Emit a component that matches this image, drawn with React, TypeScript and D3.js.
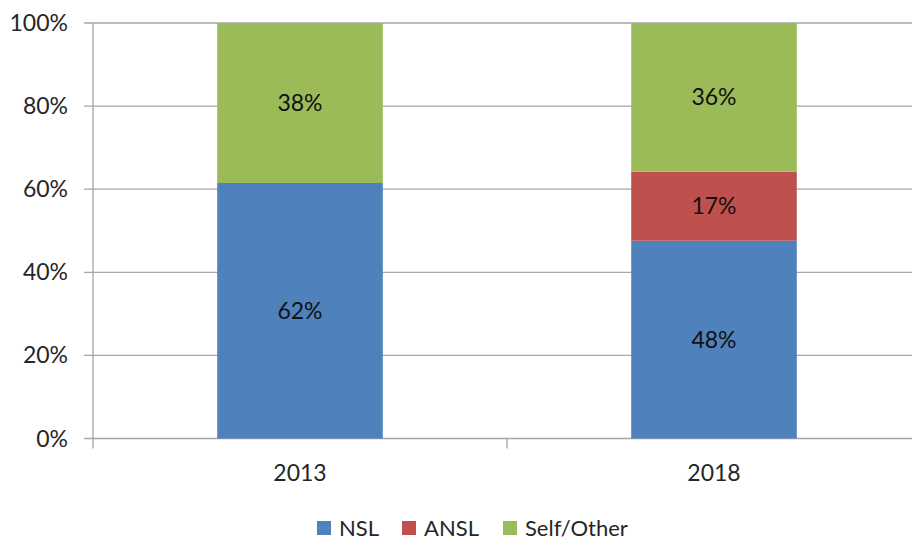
import * as d3 from "d3";

// данные
const years = ["2013", "2018"];
const seriesNames = ["NSL", "ANSL", "Self/Other"];
const nsl = [0.615, 0.476];
const ansl = [0, 0.166];
const selfOther = [0.385, 0.358];
const barLabels = [
  ["62%", "", "38%"],
  ["48%", "17%", "36%"],
];
const yTicks = [0, 0.2, 0.4, 0.6, 0.8, 1];
const colors = ["#4F81BD", "#C0504D", "#9BBB59"];

const W = 912;
const H = 540;
const margin = { top: 23, left: 93, bottom: 101.5 };
const FONT = "Lato, 'Open Sans', sans-serif";

export default function App() {
  const rows = years.map((y, i) => ({
    year: y,
    NSL: nsl[i],
    ANSL: ansl[i],
    "Self/Other": selfOther[i],
  }));
  const stacked = d3.stack<any>().keys(seriesNames)(rows);

  // шкалы
  const x = d3.scaleBand().domain(years).range([margin.left, 921]).padding(0);
  const y = d3
    .scaleLinear()
    .domain([0, 1])
    .range([H - margin.bottom, margin.top]);
  const barW = x.bandwidth() * 0.4;
  const fmt = d3.format(".0%");
  const bottom = y(0);
  const boundaries = [...years.map((d) => x(d)!), 921];

  return (
    <svg
      width={W}
      height={H}
      style={{ position: "absolute", left: 0, top: 0, background: "#fff" }}
      fontFamily={FONT}
    >
      {/* сетка и ось Y */}
      {yTicks.map((t) => (
        <g key={t}>
          <line x1={84} x2={W} y1={y(t)} y2={y(t)} stroke="#A6A6A6" strokeWidth={1.3} />
          <text
            x={68}
            y={y(t)}
            dy="0.35em"
            textAnchor="end"
            fontSize={23}
            fill="#262626"
          >
            {fmt(t)}
          </text>
        </g>
      ))}
      <line x1={margin.left} x2={margin.left} y1={margin.top} y2={bottom} stroke="#A6A6A6" strokeWidth={1.3} />
      {boundaries.map((b, i) => (
        <line key={i} x1={b} x2={b} y1={bottom} y2={bottom + 10} stroke="#A6A6A6" strokeWidth={1.3} />
      ))}

      {/* столбцы */}
      {stacked.map((s, si) => (
        <g key={s.key} fill={colors[si]}>
          {s.map((d, i) => {
            const cx = x(years[i])! + x.bandwidth() / 2;
            const h = y(d[0]) - y(d[1]);
            if (h <= 0) return null;
            return (
              <g key={i}>
                <rect x={cx - barW / 2} y={y(d[1])} width={barW} height={h} />
                <text
                  x={cx}
                  y={(y(d[0]) + y(d[1])) / 2}
                  dy="0.35em"
                  textAnchor="middle"
                  fontSize={23}
                  fill="#111"
                >
                  {barLabels[i][si]}
                </text>
              </g>
            );
          })}
        </g>
      ))}

      {/* подписи категорий */}
      {years.map((yr) => (
        <text
          key={yr}
          x={x(yr)! + x.bandwidth() / 2}
          y={473}
          dy="0.35em"
          textAnchor="middle"
          fontSize={23}
          fill="#262626"
        >
          {yr}
        </text>
      ))}

      {/* легенда */}
      {seriesNames.map((n, i) => {
        const lx = [317, 402, 503][i];
        return (
          <g key={n} transform={`translate(${lx},521)`}>
            <rect width={14} height={14} fill={colors[i]} />
            <text x={22} y={7} dy="0.35em" fontSize={22} fill="#262626">
              {n}
            </text>
          </g>
        );
      })}
    </svg>
  );
}
